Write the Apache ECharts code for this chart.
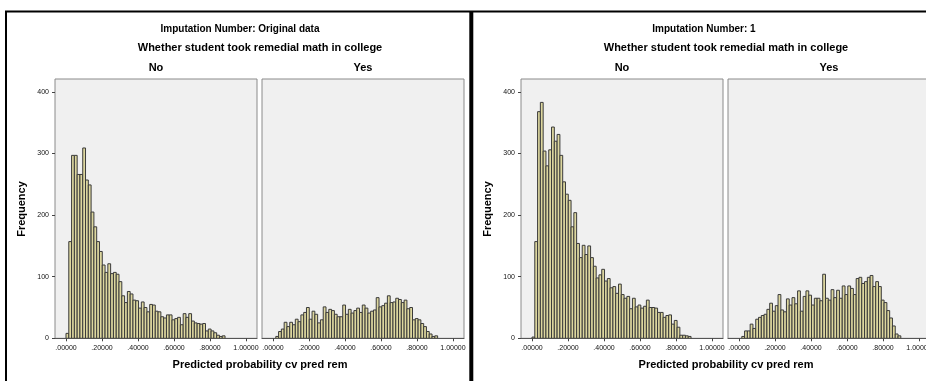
<!DOCTYPE html>
<html><head><meta charset="utf-8">
<script src="https://cdn.jsdelivr.net/npm/echarts@6/dist/echarts.min.js"></script>
<style>html,body{margin:0;padding:0;background:#fff}#c{width:926px;height:381px}</style>
</head><body><div id="c"></div>
<script>
const panelTitles = ['Imputation Number: Original data', 'Imputation Number: 1'];
const groupTitle = 'Whether student took remedial math in college';
const facetNames = ['No', 'Yes'];
const xTitle = 'Predicted probability cv pred rem';
const yTitle = 'Frequency';
const xTickValues = [0, 0.2, 0.4, 0.6, 0.8, 1.0];
const yTickValues = [0, 100, 200, 300, 400];
const binWidth = 0.0155;

const origNo = [8,157,297,297,266,266,309,257,249,205,181,157,141,119,107,121,105,107,104,92,69,58,76,72,62,61,49,59,50,43,55,54,44,43,35,33,38,38,30,32,34,22,40,34,40,28,25,24,23,24,12,15,12,9,5,3,4];
const origYes = [0,3,11,15,26,19,26,22,31,27,38,42,50,31,44,39,25,30,51,42,47,45,39,35,35,54,39,47,41,45,49,42,54,49,41,44,46,66,51,53,57,69,58,59,65,63,58,62,48,50,30,32,30,24,19,11,7,3,4];
const imp1No = [2,157,368,383,304,280,306,343,320,331,297,254,234,224,181,204,154,131,151,136,150,131,117,98,103,112,93,97,82,84,73,88,71,65,68,48,65,51,54,49,52,62,50,50,49,42,42,34,37,38,23,29,18,5,5,4,3];
const imp1Yes = [0,3,12,12,23,16,31,34,37,39,47,57,44,53,71,46,43,64,54,66,56,77,44,68,77,70,54,65,65,61,104,65,62,79,66,78,65,85,71,85,81,71,97,99,89,92,99,102,84,92,84,62,58,45,33,20,7,4];

const FONT = '"Liberation Sans", Arial, sans-serif';
const panelOffsets = [0, 466];
const facetLefts = [55, 262];
const gridTop = 79, gridH = 259.3, gridW = 202;
const xMin = -0.0611, xMax = 1.0611;
const seriesData = [origNo, origYes, imp1No, imp1Yes];

const grids = [], xAxes = [], yAxes = [], series = [], graphics = [];
let gi = 0;
panelOffsets.forEach((off, p) => {
  facetLefts.forEach((fl, f) => {
    grids.push({left: off + fl, top: gridTop, width: gridW, height: gridH, show: true,
      backgroundColor: '#f0f0f0', borderColor: '#8a8a8a', borderWidth: 1, outerBoundsMode: 'none', containLabel: false});
    xAxes.push({type: 'value', gridIndex: gi, min: xMin, max: xMax,
      axisLine: {show: true, onZero: false, lineStyle: {color: '#555', width: 1}},
      axisTick: {show: true, length: 3, customValues: xTickValues, lineStyle: {color: '#444'}},
      axisLabel: {show: true, customValues: xTickValues, fontSize: 7, color: '#111', margin: 6, fontFamily: FONT,
        formatter: v => v >= 1 ? v.toFixed(5) : v.toFixed(5).replace(/^0/, '')},
      splitLine: {show: false}});
    yAxes.push({type: 'value', gridIndex: gi, min: 0, max: 421,
      axisLine: {show: false, onZero: false},
      axisTick: {show: f === 0, length: 3, customValues: yTickValues, lineStyle: {color: '#444'}},
      axisLabel: {show: f === 0, customValues: yTickValues, fontSize: 7, color: '#111', margin: 6, fontFamily: FONT},
      splitLine: {show: false}});
    const arr = seriesData[gi];
    series.push({type: 'custom', xAxisIndex: gi, yAxisIndex: gi, clip: true,
      data: arr.map((v, k) => [k * binWidth, (k + 1) * binWidth, v]),
      encode: {x: [0, 1], y: 2},
      renderItem: (params, api) => {
        const v = api.value(2);
        if (!v) return null;
        const p0 = api.coord([api.value(0), v]);
        const p1 = api.coord([api.value(1), 0]);
        return {type: 'rect', shape: {x: p0[0], y: p0[1], width: p1[0] - p0[0], height: p1[1] - p0[1]},
          style: {fill: '#ddd79f', stroke: '#3a3a3a', lineWidth: 1}};
      }});
    graphics.push({type: 'text', x: off + fl + gridW / 2, y: 68,
      style: {text: facetNames[f], font: 'bold 11px ' + FONT, fill: '#000', textAlign: 'center', textVerticalAlign: 'middle'}});
    gi++;
  });
  graphics.push({type: 'text', x: off + (p === 0 ? 240 : 238), y: 29,
    style: {text: panelTitles[p], font: 'bold 10px ' + FONT, fill: '#000', textAlign: 'center', textVerticalAlign: 'middle'}});
  graphics.push({type: 'text', x: off + 260, y: 48,
    style: {text: groupTitle, font: 'bold 11px ' + FONT, fill: '#000', textAlign: 'center', textVerticalAlign: 'middle'}});
  graphics.push({type: 'text', x: off + 260, y: 365,
    style: {text: xTitle, font: 'bold 11px ' + FONT, fill: '#000', textAlign: 'center', textVerticalAlign: 'middle'}});
  graphics.push({type: 'text', x: off + 22, y: 209, rotation: Math.PI / 2,
    style: {text: yTitle, font: 'bold 11px ' + FONT, fill: '#000', textAlign: 'center', textVerticalAlign: 'middle'}});
});
// frames
graphics.push({type: 'line', shape: {x1: 6, y1: 11, x2: 6, y2: 381}, style: {stroke: '#000', lineWidth: 2}});
graphics.push({type: 'line', shape: {x1: 5, y1: 11.5, x2: 926, y2: 11.5}, style: {stroke: '#000', lineWidth: 2}});
graphics.push({type: 'line', shape: {x1: 471.3, y1: 11, x2: 471.3, y2: 381}, style: {stroke: '#000', lineWidth: 4}});

const chart = echarts.init(document.getElementById('c'), null, {renderer: 'canvas'});
chart.setOption({animation: false, backgroundColor: '#fff', grid: grids, xAxis: xAxes, yAxis: yAxes, series: series, graphic: graphics});
</script></body></html>
